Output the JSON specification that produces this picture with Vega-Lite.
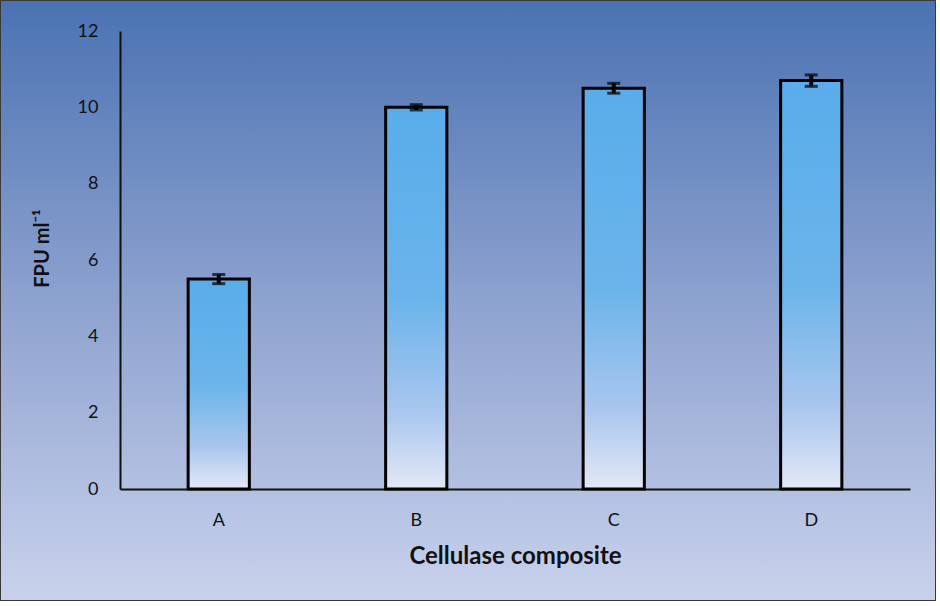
{
  "$schema": "https://vega.github.io/schema/vega-lite/v6.json",
  "width": 936,
  "height": 601,
  "autosize": {"type": "none"},
  "padding": 0,
  "background": "#ffffff",
  "config": {
    "view": {
      "fill": {"gradient": "linear", "x1": 0, "y1": 0, "x2": 0, "y2": 1,
        "stops": [
          {"offset": 0, "color": "#4a72b2"},
          {"offset": 0.5, "color": "#8da2cf"},
          {"offset": 1, "color": "#c9d2ec"}
        ]},
      "stroke": "#3a3a3a",
      "strokeWidth": 2
    },
    "font": "Lato"
  },
  "data": {
    "values": [
      {"composite": "A", "fpu": 5.5, "lo": 5.38, "hi": 5.62},
      {"composite": "B", "fpu": 10.0, "lo": 9.93, "hi": 10.07},
      {"composite": "C", "fpu": 10.5, "lo": 10.37, "hi": 10.63},
      {"composite": "D", "fpu": 10.7, "lo": 10.55, "hi": 10.85}
    ]
  },
  "encoding": {
    "x": {
      "field": "composite", "type": "nominal",
      "scale": {"range": [120, 910], "paddingInner": 0.69, "paddingOuter": 0.345},
      "axis": {
        "title": "Cellulase composite", "orient": "bottom", "offset": -112,
        "labelAngle": 0, "labelFontSize": 18, "labelColor": "#111", "labelPadding": 22,
        "ticks": false, "tickSize": 0,
        "domainColor": "#111", "domainWidth": 2,
        "titleFontSize": 24, "titleFontWeight": "bold", "titleColor": "#111",
        "titleX": 515, "titleY": 55, "titleBaseline": "top"
      }
    }
  },
  "layer": [
    {
      "mark": {
        "type": "bar", "stroke": "#000", "strokeWidth": 3,
        "fill": {"gradient": "linear", "x1": 0, "y1": 0, "x2": 0, "y2": 1,
          "stops": [
            {"offset": 0, "color": "#58adea"},
            {"offset": 0.5, "color": "#6bb4ea"},
            {"offset": 0.8, "color": "#a9c6ee"},
            {"offset": 1, "color": "#e3e8f6"}
          ]}
      },
      "encoding": {
        "y": {
          "field": "fpu", "type": "quantitative",
          "scale": {"domain": [0, 12], "range": [489, 31], "nice": false},
          "axis": {
            "title": "FPU ml⁻¹", "orient": "left", "offset": -120,
            "values": [0, 2, 4, 6, 8, 10, 12], "grid": false,
            "labelFontSize": 18, "labelColor": "#111", "labelPadding": 22,
            "ticks": false, "tickSize": 0,
            "domainColor": "#111", "domainWidth": 2,
            "titleFontSize": 20, "titleFontWeight": "bold", "titleColor": "#111",
            "titleX": -68, "titleY": 248, "titleAngle": -90, "titleBaseline": "bottom", "titleAlign": "center"
          }
        }
      }
    },
    {
      "mark": {"type": "rule", "color": "#000", "strokeWidth": 4},
      "encoding": {
        "y": {"field": "lo", "type": "quantitative"},
        "y2": {"field": "hi"}
      }
    },
    {
      "mark": {"type": "tick", "color": "#000", "size": 13, "thickness": 3},
      "encoding": {"y": {"field": "lo", "type": "quantitative"}}
    },
    {
      "mark": {"type": "tick", "color": "#000", "size": 13, "thickness": 3},
      "encoding": {"y": {"field": "hi", "type": "quantitative"}}
    }
  ]
}
